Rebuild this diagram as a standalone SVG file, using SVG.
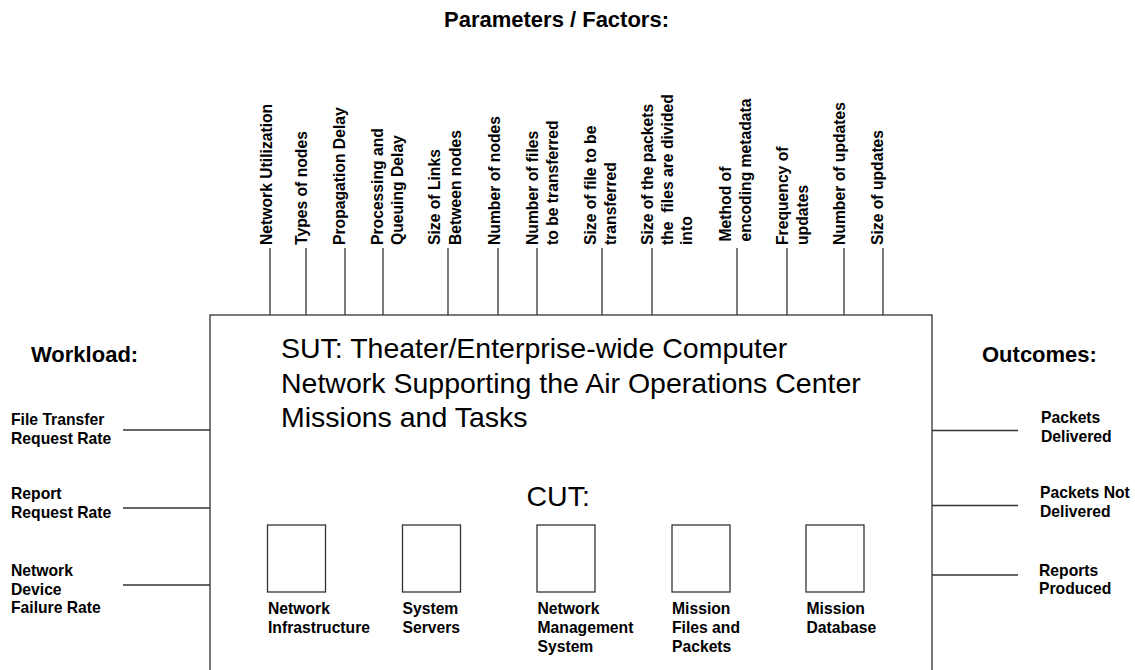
<svg xmlns="http://www.w3.org/2000/svg" width="1135" height="670" viewBox="0 0 1135 670">
  <style>
    text { font-family: "Liberation Sans", Arial, Helvetica, sans-serif; fill: #000; }
    .hdr { font-size: 22px; font-weight: bold; }
    .lbl { font-size: 15.7px; font-weight: bold; }
    .big { font-size: 28.5px; }
    .pre { white-space: pre; }
    .ln { stroke: #333; stroke-width: 1.3; fill: none; }
    .box { stroke: #333; stroke-width: 1.3; fill: #fff; }
  </style>

  <!-- headings -->
  <text class="hdr" x="556.5" y="26.5" text-anchor="middle">Parameters / Factors:</text>
  <text class="hdr" x="31" y="362">Workload:</text>
  <text class="hdr" x="982" y="362">Outcomes:</text>

  <!-- system under test -->
  <g id="sut">
    <rect class="box" x="210" y="315" width="722" height="400"/>
    <text class="big" x="281" y="358">SUT: Theater/Enterprise-wide Computer</text>
    <text class="big" x="281" y="392.5">Network Supporting the Air Operations Center</text>
    <text class="big" x="281" y="427">Missions and Tasks</text>
    <text class="big" x="526.5" y="506">CUT:</text>
  </g>

  <!-- components under test -->
  <g id="cut-network-infrastructure">
    <rect class="box" x="267.5" y="525" width="58" height="67"/>
    <text class="lbl" x="268"><tspan x="268" y="614.3">Network</tspan><tspan x="268" y="633">Infrastructure</tspan></text>
  </g>
  <g id="cut-system-servers">
    <rect class="box" x="402.5" y="525" width="58" height="67"/>
    <text class="lbl"><tspan x="402.5" y="614.3">System</tspan><tspan x="402.5" y="633">Servers</tspan></text>
  </g>
  <g id="cut-network-management">
    <rect class="box" x="537" y="525" width="58" height="67"/>
    <text class="lbl"><tspan x="537.5" y="614.3">Network</tspan><tspan x="537.5" y="633">Management</tspan><tspan x="537.5" y="651.7">System</tspan></text>
  </g>
  <g id="cut-mission-files">
    <rect class="box" x="672" y="525" width="58" height="67"/>
    <text class="lbl"><tspan x="672" y="614.3">Mission</tspan><tspan x="672" y="633">Files and</tspan><tspan x="672" y="651.7">Packets</tspan></text>
  </g>
  <g id="cut-mission-database">
    <rect class="box" x="806" y="525" width="58" height="67"/>
    <text class="lbl"><tspan x="806.5" y="614.3">Mission</tspan><tspan x="806.5" y="633">Database</tspan></text>
  </g>

  <!-- parameter / factor labels, reading bottom to top -->
  <g id="param-network-utilization"><text class="lbl" transform="translate(271.5,245) rotate(-90)">Network Utilization</text></g>
  <g id="param-types-of-nodes"><text class="lbl" transform="translate(306.5,245) rotate(-90)">Types of nodes</text></g>
  <g id="param-propagation-delay"><text class="lbl" transform="translate(345,245) rotate(-90)">Propagation Delay</text></g>
  <g id="param-processing-delay"><text class="lbl" transform="translate(383,245) rotate(-90)"><tspan x="0" y="0">Processing and</tspan><tspan x="0" y="19.5">Queuing Delay</tspan></text></g>
  <g id="param-link-size"><text class="lbl" transform="translate(440,245) rotate(-90)"><tspan x="0" y="0">Size of Links</tspan><tspan x="0" y="20.5">Between nodes</tspan></text></g>
  <g id="param-number-of-nodes"><text class="lbl" transform="translate(500,245) rotate(-90)">Number of nodes</text></g>
  <g id="param-number-of-files"><text class="lbl" transform="translate(538,245) rotate(-90)"><tspan x="0" y="0">Number of files</tspan><tspan x="0" y="19.5">to be transferred</tspan></text></g>
  <g id="param-file-size"><text class="lbl" transform="translate(595.5,245) rotate(-90)"><tspan x="0" y="0">Size of file to be</tspan><tspan x="0" y="20">transferred</tspan></text></g>
  <g id="param-packet-size"><text class="lbl pre" transform="translate(653,245) rotate(-90)"><tspan x="0" y="0">Size of the packets</tspan><tspan x="0" y="20">the  files are divided</tspan><tspan x="0" y="39">into</tspan></text></g>
  <g id="param-metadata-encoding"><text class="lbl" transform="translate(731,241.5) rotate(-90)"><tspan x="0" y="0">Method of</tspan><tspan x="0" y="20">encoding metadata</tspan></text></g>
  <g id="param-update-frequency"><text class="lbl" transform="translate(787.5,245) rotate(-90)"><tspan x="0" y="0">Frequency of</tspan><tspan x="0" y="20.5">updates</tspan></text></g>
  <g id="param-number-of-updates"><text class="lbl" transform="translate(845,245) rotate(-90)">Number of updates</text></g>
  <g id="param-size-of-updates"><text class="lbl" transform="translate(883,245) rotate(-90)">Size of updates</text></g>

  <!-- workload inputs -->
  <g id="in-file-transfer"><text class="lbl"><tspan x="11" y="425">File Transfer</tspan><tspan x="11" y="443.5">Request Rate</tspan></text></g>
  <g id="in-report-request"><text class="lbl"><tspan x="11" y="499.3">Report</tspan><tspan x="11" y="518">Request Rate</tspan></text></g>
  <g id="in-device-failure"><text class="lbl"><tspan x="11" y="576">Network</tspan><tspan x="11" y="594.5">Device</tspan><tspan x="11" y="613.3">Failure Rate</tspan></text></g>

  <!-- outcomes -->
  <g id="out-packets-delivered"><text class="lbl"><tspan x="1041" y="423.3">Packets</tspan><tspan x="1041" y="442.3">Delivered</tspan></text></g>
  <g id="out-packets-not-delivered"><text class="lbl"><tspan x="1040" y="497.7">Packets Not</tspan><tspan x="1040" y="517.3">Delivered</tspan></text></g>
  <g id="out-reports-produced"><text class="lbl"><tspan x="1039" y="576">Reports</tspan><tspan x="1039" y="594.3">Produced</tspan></text></g>

  <!-- connectors -->
  <g id="connectors" class="ln">
    <line x1="270" y1="248" x2="270" y2="315"/>
    <line x1="306" y1="248" x2="306" y2="315"/>
    <line x1="345" y1="248" x2="345" y2="315"/>
    <line x1="383" y1="248" x2="383" y2="315"/>
    <line x1="448" y1="248" x2="448" y2="315"/>
    <line x1="498" y1="248" x2="498" y2="315"/>
    <line x1="537" y1="248" x2="537" y2="315"/>
    <line x1="602" y1="248" x2="602" y2="315"/>
    <line x1="652" y1="248" x2="652" y2="315"/>
    <line x1="737" y1="248" x2="737" y2="315"/>
    <line x1="787" y1="248" x2="787" y2="315"/>
    <line x1="844" y1="248" x2="844" y2="315"/>
    <line x1="883" y1="248" x2="883" y2="315"/>

    <line x1="123" y1="430" x2="210" y2="430"/>
    <line x1="123" y1="508" x2="210" y2="508"/>
    <line x1="123" y1="585" x2="210" y2="585"/>

    <line x1="932" y1="430.5" x2="1018" y2="430.5"/>
    <line x1="932" y1="505.5" x2="1018" y2="505.5"/>
    <line x1="932" y1="575" x2="1018" y2="575"/>
  </g>
</svg>
